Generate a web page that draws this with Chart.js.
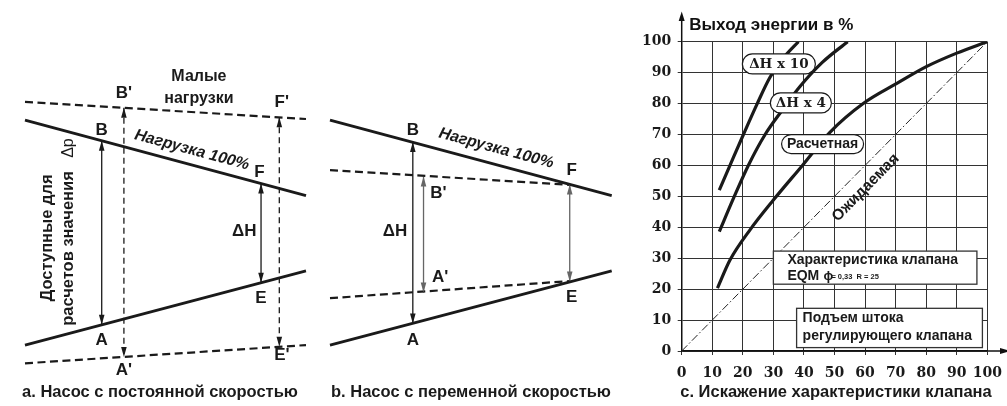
<!DOCTYPE html>
<html><head><meta charset="utf-8">
<script src="https://cdn.jsdelivr.net/npm/chart.js@4.4.1/dist/chart.umd.min.js"></script>
<style>
html,body{margin:0;padding:0;background:#fff;width:1007px;height:406px;overflow:hidden;position:relative}
canvas{position:absolute;top:0}
.cap{position:absolute;top:382px;height:20px;line-height:20px;font:bold 16.5px "Liberation Sans",Arial,sans-serif;color:#1a1a1a;white-space:nowrap;text-align:center;width:400px}
</style></head><body>
<canvas id="ca" width="318" height="406" style="left:0px;width:318px;height:406px"></canvas>
<canvas id="cb" width="312" height="406" style="left:318px;width:312px;height:406px"></canvas>
<canvas id="cc" width="377" height="406" style="left:630px;width:377px;height:406px"></canvas>
<div class="cap" style="left:-40px">a. Насос с постоянной скоростью</div>
<div class="cap" style="left:271px">b. Насос с переменной скоростью</div>
<div class="cap" style="left:636px">c. Искажение характеристики клапана</div>
<script>
// ===================== DATA =====================
// Panels a / b : schematic head (y) versus flow (x, 0..100)
const flowX = [0, 100];
const fullLoadHead = [81.7, 60.1];      // "Нагрузка 100%" line
const systemHead = [17.4, 38.6];        // lower solid line
const lowLoadTopA = [86.9, 82.0];       // "Малые нагрузки" upper dashed (a)
const lowLoadBottomA = [12.2, 17.4];    // lower dashed (a)
const reducedFlowB = [0, 85.1];
const reducedTopB = [67.4, 63.2];       // upper dashed (b)
const reducedBottomB = [30.8, 35.7];    // lower dashed (b)

// arrows (flow position, top head, bottom head)
const arrowAX = [27.3, 35.2, 84.0, 90.5];
const arrowATop = [75.8, 85.2, 63.6, 82.5];
const arrowABottom = [23.2, 14.0, 35.2, 16.9];
const arrowBX = [29.4, 33.2, 85.1];
const arrowBTop = [75.4, 65.6, 63.3];
const arrowBBottom = [23.6, 32.4, 35.6];

// Panel c : energy output (%) versus valve stem lift (%)
const expectedX = [0, 100];
const expectedY = [0, 100];
const dh10X = [12.3, 15.8, 20.2, 24.5, 28.9, 33.5, 38.2];
const dh10Y = [52, 60, 70, 79.5, 88.5, 95, 100];
const dh4X = [12.3, 17.0, 21.8, 27.3, 33.0, 38.7, 46.0, 54.3];
const dh4Y = [38.6, 49.5, 60, 70, 78, 85.5, 93.3, 100];
const calcX = [11.7, 15.8, 22.3, 30.0, 39.5, 48.5, 59.4, 70.4, 80.2, 90.0, 100];
const calcY = [20.3, 29.4, 39.1, 48.8, 60, 70.7, 80, 86.5, 92, 96.3, 100];
const xTickValues = [0, 10, 20, 30, 40, 50, 60, 70, 80, 90, 100];
const yTickValues = [0, 10, 20, 30, 40, 50, 60, 70, 80, 90, 100];

// ===================== LAYOUT / STYLE =====================
const INK = '#1a1a1a';
const SANS = '"Liberation Sans", Arial, sans-serif';
const SERIF = '"DejaVu Serif", serif';
const pts = (xs, ys) => xs.map((x, i) => ({x, y: ys[i]}));

const labelsA = [
  {t:'Малые', x:61.9, y:94.1, f:'bold 16px '+SANS},
  {t:'нагрузки', x:61.9, y:87.9, f:'bold 16px '+SANS},
  {t:"B'", x:35.2, y:89.3, f:'bold 17px '+SANS},
  {t:"F'", x:91.4, y:86.9, f:'bold 17px '+SANS},
  {t:'B', x:27.3, y:78.9, f:'bold 17px '+SANS},
  {t:'Нагрузка 100%', x:59.4, y:73.1, f:'italic bold 16px '+SANS, alongTop:true},
  {t:'F', x:83.4, y:66.9, f:'bold 17px '+SANS},
  {t:'ΔH', x:78.0, y:49.8, f:'bold 17px '+SANS},
  {t:'E', x:84.0, y:30.8, f:'bold 17px '+SANS},
  {t:'A', x:27.3, y:18.9, f:'bold 17px '+SANS},
  {t:"A'", x:35.2, y:10.3, f:'bold 17px '+SANS},
  {t:"E'", x:91.4, y:14.6, f:'bold 17px '+SANS},
  {t:'Доступные для', x:7.9, y:48, f:'bold 16.5px '+SANS, rot:-Math.PI/2},
  {t:'расчетов значения', x:15.6, y:45, f:'bold 16.5px '+SANS, rot:-Math.PI/2},
  {t:'Δp', x:15.6, y:73.7, f:'16px '+SANS, rot:-Math.PI/2}
];
const labelsB = [
  {t:'B', x:29.4, y:78.9, f:'bold 17px '+SANS},
  {t:'Нагрузка 100%', x:59.0, y:73.6, f:'italic bold 16px '+SANS, alongTop:true},
  {t:'F', x:85.8, y:67.2, f:'bold 17px '+SANS},
  {t:"B'", x:38.5, y:60.9, f:'bold 17px '+SANS},
  {t:'ΔH', x:23.1, y:49.8, f:'bold 17px '+SANS},
  {t:"A'", x:39.1, y:36.9, f:'bold 17px '+SANS},
  {t:'E', x:85.8, y:31.1, f:'bold 17px '+SANS},
  {t:'A', x:29.4, y:18.9, f:'bold 17px '+SANS}
];

function lineDs(xs, ys, dashed) {
  return {data: pts(xs, ys), showLine:true, pointRadius:0, borderColor:INK,
          borderWidth: dashed ? 2.2 : 2.8, borderDash: dashed ? [8,4.5] : [], clip:false};
}
function arrowDs(x, top, bottom, dashed, color) {
  return {data:[{x, y:top},{x, y:bottom}], showLine:true, pointRadius:0,
          borderColor: color, borderWidth: 1.3, borderDash: dashed ? [6,4] : [],
          arrow:true, clip:false};
}

const diagramPlugin = {
  id:'diagram',
  afterDatasetsDraw(chart, args, opts) {
    const ctx = chart.ctx, xs = chart.scales.x, ys = chart.scales.y;
    ctx.save();
    chart.data.datasets.forEach((ds, i) => {
      if (!ds.arrow) return;
      const m = chart.getDatasetMeta(i).data;
      const a = m[0], b = m[1];
      const top = a.y < b.y ? a : b, bot = a.y < b.y ? b : a;
      ctx.fillStyle = ds.borderColor;
      const L = 10, W = 2.8;
      ctx.beginPath(); ctx.moveTo(top.x, top.y); ctx.lineTo(top.x - W, top.y + L); ctx.lineTo(top.x + W, top.y + L); ctx.closePath(); ctx.fill();
      ctx.beginPath(); ctx.moveTo(bot.x, bot.y); ctx.lineTo(bot.x - W, bot.y - L); ctx.lineTo(bot.x + W, bot.y - L); ctx.closePath(); ctx.fill();
    });
    const ang = Math.atan2(ys.getPixelForValue(fullLoadHead[1]) - ys.getPixelForValue(fullLoadHead[0]),
                           xs.getPixelForValue(flowX[1]) - xs.getPixelForValue(flowX[0]));
    ctx.fillStyle = INK; ctx.textAlign = 'center'; ctx.textBaseline = 'middle';
    opts.labels.forEach(l => {
      ctx.save();
      ctx.translate(xs.getPixelForValue(l.x), ys.getPixelForValue(l.y));
      if (l.rot) ctx.rotate(l.rot);
      if (l.alongTop) ctx.rotate(ang);
      ctx.font = l.f;
      ctx.fillText(l.t, 0, 0);
      ctx.restore();
    });
    ctx.restore();
  }
};

function makeDiagram(id, canvasW, x0Px, x1Px, datasets, labels) {
  const ppu = (x1Px - x0Px) / 100;
  return new Chart(document.getElementById(id), {
    type:'scatter',
    data:{datasets},
    options:{
      responsive:false, animation:false, events:[],
      layout:{padding:0, autoPadding:false},
      plugins:{legend:{display:false}, tooltip:{enabled:false}, diagram:{labels}},
      scales:{
        x:{type:'linear', display:false, min:-x0Px/ppu, max:(canvasW - x0Px)/ppu},
        y:{type:'linear', display:false, min:0, max:116}
      }
    },
    plugins:[diagramPlugin]
  });
}

makeDiagram('ca', 318, 25, 306, [
  lineDs(flowX, fullLoadHead, false),
  lineDs(flowX, systemHead, false),
  lineDs(flowX, lowLoadTopA, true),
  lineDs(flowX, lowLoadBottomA, true),
  arrowDs(arrowAX[0], arrowATop[0], arrowABottom[0], false, INK),
  arrowDs(arrowAX[1], arrowATop[1], arrowABottom[1], true, INK),
  arrowDs(arrowAX[2], arrowATop[2], arrowABottom[2], false, INK),
  arrowDs(arrowAX[3], arrowATop[3], arrowABottom[3], true, INK)
], labelsA);

makeDiagram('cb', 312, 12, 293.7, [
  lineDs(flowX, fullLoadHead, false),
  lineDs(flowX, systemHead, false),
  lineDs(reducedFlowB, reducedTopB, true),
  lineDs(reducedFlowB, reducedBottomB, true),
  arrowDs(arrowBX[0], arrowBTop[0], arrowBBottom[0], false, INK),
  arrowDs(arrowBX[1], arrowBTop[1], arrowBBottom[1], false, '#666'),
  arrowDs(arrowBX[2], arrowBTop[2], arrowBBottom[2], false, '#666')
], labelsB);

// ---------- panel c ----------
const pills = [
  {t:'ΔH x 10', x:31.8, y:92.8, w:73, h:20, f:'bold 13.5px '+SERIF},
  {t:'ΔH x 4', x:39.0, y:80.2, w:61, h:20, f:'bold 13.5px '+SERIF},
  {t:'Расчетная', x:46.1, y:66.9, w:82, h:19, f:'bold 14px '+SANS}
];
const boxes = [
  {x0:30.0, x1:96.6, y0:32.3, y1:21.6},
  {x0:37.6, x1:98.4, y0:13.8, y1:1.1}
];

const chartCPlugin = {
  id:'panelC',
  afterDatasetsDraw(chart) {
    const ctx = chart.ctx, xs = chart.scales.x, ys = chart.scales.y;
    ctx.save();
    ctx.fillStyle = INK; ctx.textBaseline = 'middle';
    const ang = Math.atan2(ys.getPixelForValue(expectedY[1]) - ys.getPixelForValue(expectedY[0]),
                           xs.getPixelForValue(expectedX[1]) - xs.getPixelForValue(expectedX[0]));
    ctx.save();
    ctx.translate(xs.getPixelForValue(60.2), ys.getPixelForValue(52.8));
    ctx.rotate(ang);
    ctx.font = 'bold 15.5px ' + SANS; ctx.textAlign = 'center';
    ctx.fillText('Ожидаемая', 0, 0);
    ctx.restore();
    pills.forEach(p => {
      const cx = xs.getPixelForValue(p.x), cy = ys.getPixelForValue(p.y);
      ctx.beginPath();
      ctx.roundRect(cx - p.w/2, cy - p.h/2, p.w, p.h, p.h/2);
      ctx.fillStyle = '#fff'; ctx.fill();
      ctx.lineWidth = 1.2; ctx.strokeStyle = INK; ctx.stroke();
      ctx.fillStyle = INK; ctx.font = p.f; ctx.textAlign = 'center';
      ctx.fillText(p.t, cx, cy + 0.5);
    });
    boxes.forEach(b => {
      const l = xs.getPixelForValue(b.x0), r = xs.getPixelForValue(b.x1);
      const t = ys.getPixelForValue(b.y0), bt = ys.getPixelForValue(b.y1);
      ctx.fillStyle = '#fff'; ctx.fillRect(l, t, r - l, bt - t);
      ctx.lineWidth = 1.3; ctx.strokeStyle = '#333'; ctx.strokeRect(l, t, r - l, bt - t);
    });
    ctx.fillStyle = INK; ctx.textAlign = 'left';
    let l = xs.getPixelForValue(boxes[0].x0), t = ys.getPixelForValue(boxes[0].y0);
    ctx.font = 'bold 14px ' + SANS;
    ctx.fillText('Характеристика клапана', l + 14, t + 8.6);
    ctx.fillText('EQM', l + 14, t + 25);
    ctx.font = 'bold 13px ' + SANS;
    ctx.fillText('ϕ', l + 50, t + 25);
    ctx.font = 'bold 7.5px ' + SANS;
    ctx.fillText('= 0,33  R = 25', l + 58, t + 25.5);
    l = xs.getPixelForValue(boxes[1].x0); t = ys.getPixelForValue(boxes[1].y0);
    ctx.font = 'bold 14px ' + SANS;
    ctx.fillText('Подъем штока', l + 6, t + 10.2);
    ctx.fillText('регулирующего клапана', l + 6, t + 27.5);
    ctx.restore();
  },
  afterDraw(chart) {
    const ctx = chart.ctx, a = chart.chartArea;
    ctx.save();
    ctx.strokeStyle = '#111'; ctx.fillStyle = '#111'; ctx.lineWidth = 1.5;
    ctx.beginPath(); ctx.moveTo(a.left, a.top); ctx.lineTo(a.left, 18); ctx.stroke();
    ctx.beginPath(); ctx.moveTo(a.left, 11.5); ctx.lineTo(a.left - 3, 21); ctx.lineTo(a.left + 3, 21); ctx.closePath(); ctx.fill();
    ctx.beginPath(); ctx.moveTo(a.right, a.bottom); ctx.lineTo(chart.width, a.bottom); ctx.stroke();
    ctx.beginPath(); ctx.moveTo(chart.width + 3, a.bottom); ctx.lineTo(chart.width - 7, a.bottom - 3); ctx.lineTo(chart.width - 7, a.bottom + 3); ctx.closePath(); ctx.fill();
    ctx.font = 'bold 17px ' + SANS; ctx.textAlign = 'left'; ctx.textBaseline = 'middle';
    ctx.fillText('Выход энергии в %', a.left + 7.6, 25);
    ctx.restore();
  }
};

const curveStyle = {showLine:true, pointRadius:0, borderColor:INK, borderWidth:3.2,
                    cubicInterpolationMode:'monotone', borderCapStyle:'butt'};
new Chart(document.getElementById('cc'), {
  type:'scatter',
  data:{datasets:[
    {label:'Ожидаемая', data:pts(expectedX, expectedY), showLine:true, pointRadius:0,
     borderColor:'#222', borderWidth:1, borderDash:[8,2.5,1.5,2.5]},
    Object.assign({label:'ΔH x 10', data:pts(dh10X, dh10Y)}, curveStyle),
    Object.assign({label:'ΔH x 4', data:pts(dh4X, dh4Y)}, curveStyle),
    Object.assign({label:'Расчетная', data:pts(calcX, calcY)}, curveStyle)
  ]},
  options:{
    responsive:false, animation:false, events:[],
    layout:{padding:{top:41.7, right:19.7, bottom:25, left:0}, autoPadding:false},
    plugins:{legend:{display:false}, tooltip:{enabled:false}},
    scales:{
      x:{type:'linear', min:0, max:100,
         afterFit: s => { s.height = 30; s.paddingLeft = 0; s.paddingRight = 0; },
         afterBuildTicks: s => { s.ticks = xTickValues.map(v => ({value:v})); },
         ticks:{font:{family:'DejaVu Serif', weight:'bold', size:14}, color:INK, padding:10, maxRotation:0, autoSkip:false},
         grid:{color:'#333', lineWidth:1, tickLength:4},
         border:{color:'#111', width:1.5}},
      y:{type:'linear', min:0, max:100,
         afterFit: s => { s.width = 51.7; s.paddingTop = 0; s.paddingBottom = 0; },
         afterBuildTicks: s => { s.ticks = yTickValues.map(v => ({value:v})); },
         ticks:{font:{family:'DejaVu Serif', weight:'bold', size:14}, color:INK, padding:6.5, autoSkip:false},
         grid:{color:'#333', lineWidth:1, tickLength:4},
         border:{color:'#111', width:1.5}}
    }
  },
  plugins:[chartCPlugin]
});
</script>
</body></html>
